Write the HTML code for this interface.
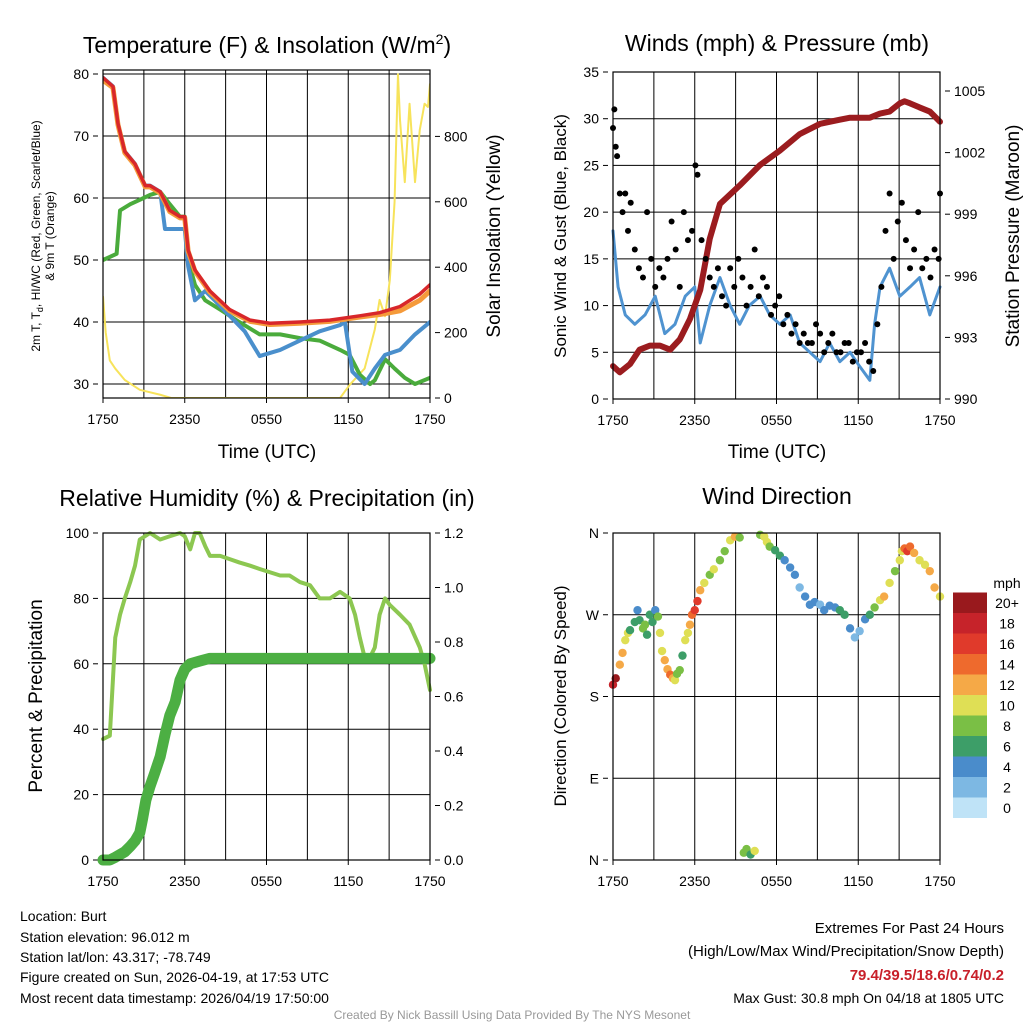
<!DOCTYPE html>
<html><head><meta charset="utf-8">
<style>
body{margin:0;background:#fff;}
svg{display:block;font-family:"Liberation Sans",sans-serif;}
</style></head>
<body>
<svg id="c" width="1024" height="1024" viewBox="0 0 1024 1024">
<text x="267" y="53" font-size="23" text-anchor="middle">Temperature (F) &amp; Insolation (W/m<tspan font-size="14" dy="-9">2</tspan><tspan dy="9">)</tspan></text>
<text x="777" y="51" font-size="23" text-anchor="middle">Winds (mph) &amp; Pressure (mb)</text>
<text x="267" y="506" font-size="23" text-anchor="middle">Relative Humidity (%) &amp; Precipitation (in)</text>
<text x="777" y="504" font-size="23" text-anchor="middle">Wind Direction</text>

<text transform="translate(40,236) rotate(-90)" font-size="12" text-anchor="middle"><tspan x="0" dy="0">2m T, T<tspan font-size="9" dy="3">d</tspan><tspan dy="-3">, HI/WC (Red, Green, Scarlet/Blue)</tspan></tspan><tspan x="0" dy="14">&amp; 9m T (Orange)</tspan></text>
<text transform="translate(500,236) rotate(-90)" font-size="19" text-anchor="middle">Solar Insolation (Yellow)</text>
<text x="267" y="458" font-size="19" text-anchor="middle">Time (UTC)</text>
<text transform="translate(566,236) rotate(-90)" font-size="17" text-anchor="middle">Sonic Wind &amp; Gust (Blue, Black)</text>
<text transform="translate(1019,236) rotate(-90)" font-size="19" text-anchor="middle">Station Pressure (Maroon)</text>
<text x="777" y="458" font-size="19" text-anchor="middle">Time (UTC)</text>
<text transform="translate(42,696) rotate(-90)" font-size="19" text-anchor="middle">Percent &amp; Precipitation</text>
<text transform="translate(566,696) rotate(-90)" font-size="17" text-anchor="middle">Direction (Colored By Speed)</text>

<g font-size="14">
<text x="20" y="921">Location: Burt</text>
<text x="20" y="942">Station elevation: 96.012 m</text>
<text x="20" y="962">Station lat/lon: 43.317; -78.749</text>
<text x="20" y="982">Figure created on Sun, 2026-04-19, at 17:53 UTC</text>
<text x="20" y="1003">Most recent data timestamp: 2026/04/19 17:50:00</text>
</g>
<g font-size="15" text-anchor="end">
<text x="1004" y="933">Extremes For Past 24 Hours</text>
<text x="1004" y="956">(High/Low/Max Wind/Precipitation/Snow Depth)</text>
<text x="1004" y="980" fill="#c8202a" font-weight="bold">79.4/39.5/18.6/0.74/0.2</text>
<text x="1004" y="1003" font-size="14">Max Gust: 30.8 mph On 04/18 at 1805 UTC</text>
</g>
<text x="512" y="1019" font-size="12" fill="#999" text-anchor="middle">Created By Nick Bassill Using Data Provided By The NYS Mesonet</text>
</svg>
<script>
// ---- data ----
const timeLabels=["1750","2350","0550","1150","1750"];
const tempTicks=[30,40,50,60,70,80];
const solarTicks=[0,200,400,600,800];
const windTicks=[0,5,10,15,20,25,30,35];
const presTicks=[990,993,996,999,1002,1005];
const rhTicks=[0,20,40,60,80,100];
const precipTicks=["0.0","0.2","0.4","0.6","0.8","1.0","1.2"];
const dirLabels=["N","E","S","W","N"];
const speedLegend=["0","2","4","6","8","10","12","14","16","18","20+"];
const speedColors=["#bfe3f7","#7db8e3","#4a8ccb","#3d9e68","#7abf45","#dfdf55","#f5a947","#ee6a2d","#e03a2b","#c6232a","#99191d"];

const tempT=[0,0.73,1.1,1.6,2.35,3.1,3.45,4.2,4.9,5.65,6,6.25,6.75,7.85,9.3,10.8,12.25,14.45,16.65,18.85,20.3,21.8,23.25,24];
const tempV=[79.4,78,72,67.5,65.5,62,62,61,58,57,57,51.6,48.4,45,42,40.3,39.8,40,40.3,41,41.5,42.5,44.5,46];
const nineT=[79,77.8,71.8,67.3,65.3,61.8,61.8,60.8,57.8,56.8,56.8,51.4,48.2,44.8,41.8,40.1,39.6,39.8,40.1,40.8,41.2,41.8,43.5,45];
const dewT=[0,0.5,1.0,1.25,2,2.7,3.45,4.2,4.9,5.65,6,6.25,6.75,7.5,8.6,10,11.5,13,14.45,15.9,17.4,18.1,18.85,19.6,19.95,20.7,21.4,22.15,22.9,24];
const dewV=[50,50.5,51,58,59,59.7,60.5,61,59,57,57,50,46,43.5,42,40,38,38,37.4,37,35.5,34.7,31.5,30,30.6,34,32.5,31,30,31];
const hiT=[0,0.73,1.1,1.6,2.35,3.1,3.45,4.2,4.55,6,6.25,6.75,7.5,8.2,9.3,10.4,11.5,13,14.45,15.9,17.4,17.75,18.3,19.2,19.95,20.7,21.8,22.9,24];
const hiV=[79.4,78,72,67.5,65.5,62,62,61,55,55,49,43.5,45,43.5,41,38.5,34.5,35.5,37,38.5,39.5,40,32,30,32.5,34.7,35.5,38,40];
const solT=[0,0.2,0.5,0.9,1.6,2.7,4.2,5,17.4,18.1,19.2,19.95,20.3,20.7,21.05,21.4,21.65,21.8,22.15,22.5,22.9,23.25,23.6,23.85,24];
const solV=[310,200,115,90,55,25,10,0,0,40,90,210,300,250,360,600,990,850,660,900,660,820,900,890,960];

const windT=[0,0.37,0.9,1.6,2.35,3.1,3.8,4.55,5.3,6,6.4,7.1,7.85,8.6,9.3,10,10.8,11.5,12.25,13,13.7,14.45,15.2,15.9,16.65,17.4,18.1,18.85,19.2,19.6,20.3,21.05,21.8,22.5,23.25,24];
const windV=[18,12,9,8,9,11,7,8,11,12,6,10,13,10,8,10,11,9,8,9,6,5,4,6,4,5,3.5,2,8,12,14,11,12,13,9,12];
const gustT=[0,0.1,0.2,0.3,0.5,0.7,0.9,1.1,1.3,1.6,1.9,2.2,2.5,2.8,3.1,3.4,3.7,4.0,4.3,4.6,4.9,5.2,5.5,5.8,6.05,6.2,6.5,6.8,7.1,7.4,7.7,8.0,8.3,8.6,8.9,9.2,9.5,9.8,10.1,10.4,10.7,11.0,11.3,11.6,11.9,12.2,12.5,12.8,13.1,13.4,13.7,14.0,14.3,14.6,14.9,15.2,15.5,15.8,16.1,16.4,16.7,17.0,17.3,17.6,17.9,18.2,18.5,18.8,19.1,19.4,19.7,20.0,20.3,20.6,20.9,21.2,21.5,21.8,22.1,22.4,22.7,23.0,23.3,23.6,23.9,24];
const gustV=[29,31,27,26,22,20,22,18,21,16,14,13,20,15,12,14,13,15,19,16,12,20,17,18,25,24,17,15,13,12,14,11,10,14,12,15,13,10,12,16,11,13,12,9,10,11,8,9,7,8,6,7,6,6,8,7,5,6,7,5,5,6,6,4,5,5,6,4,3,8,12,18,22,15,19,21,17,14,16,20,14,15,13,16,15,22];
const presT=[0,0.5,1.25,1.95,2.7,3.45,4.2,4.9,5.65,6.4,7.1,7.85,9.3,10.8,12.25,13.7,15.2,16.65,17.4,18.85,19.6,20.3,21.05,21.4,21.8,22.5,23.25,24];
const presV=[991.6,991.3,991.7,992.4,992.6,992.6,992.4,992.9,993.9,995.3,997.8,999.5,1000.4,1001.4,1002.1,1002.9,1003.4,1003.6,1003.7,1003.7,1003.9,1004.0,1004.4,1004.5,1004.4,1004.2,1004.0,1003.5];

const rhT=[0,0.5,0.9,1.25,1.6,2,2.35,2.7,3.45,4.2,4.9,5.65,6,6.4,6.75,7.1,7.5,7.85,8.6,9.3,10,10.8,11.5,12.25,13,13.7,14.45,15.2,15.9,16.65,17.4,18.1,18.5,18.85,19.2,19.6,19.95,20.3,20.7,21.05,21.8,22.5,23.25,23.6,24];
const rhV=[37,38,68,75,80,85,90,98,100,98,99,100,99,95,100,100,96,93,93,92,91,90,89,88,87,87,85,84,80,80,82,80,75,68,62,62,65,75,80,78,75,72,65,60,52];
const prT=[0,0.5,0.9,1.25,1.6,2,2.35,2.7,2.9,3.15,3.45,3.8,4.2,4.55,4.9,5.3,5.65,6,6.4,7.1,7.85,12,18,24];
const prV=[0,0,0.01,0.02,0.03,0.05,0.07,0.1,0.15,0.22,0.27,0.32,0.38,0.46,0.53,0.58,0.66,0.70,0.72,0.73,0.74,0.74,0.74,0.74];

const dirT=[0,0.2,0.5,0.7,0.9,1.1,1.25,1.6,1.8,1.95,2.2,2.35,2.5,2.7,2.9,3.1,3.3,3.45,3.6,3.8,4.0,4.2,4.4,4.55,4.7,4.9,5.1,5.3,5.5,5.65,5.8,6,6.2,6.4,6.7,7.1,7.4,7.85,8.2,8.6,8.95,9.3,9.6,9.8,10.1,10.4,10.8,11.1,11.3,11.5,11.9,12.25,12.6,13,13.35,13.7,14.1,14.45,14.8,15.2,15.5,15.9,16.3,16.65,17,17.4,17.75,18.1,18.5,18.85,19.2,19.6,19.9,20.3,20.7,21.05,21.2,21.4,21.6,21.8,22.1,22.5,22.9,23.25,23.6,24];
const dirV=[193,200,215,228,242,250,253,262,275,264,255,259,248,270,262,275,268,250,230,220,210,204,200,198,205,209,225,242,250,259,270,275,285,297,305,314,320,330,340,352,356,355,8,12,6,10,358,356,350,345,341,335,330,322,314,300,290,281,284,281,275,280,278,275,270,255,245,252,265,270,278,286,290,305,318,330,340,343,340,345,338,330,325,318,300,290];
const dirS=[18,20,12,11,10,9,6,5,4,6,7,8,6,5,6,4,7,9,10,12,11,13,12,9,8,7,6,9,10,12,14,15,16,12,10,8,9,8,7,10,11,8,7,8,6,9,7,10,9,8,6,5,4,4,3,2,4,3,3,2,4,3,4,6,5,3,2,2,3,6,8,9,12,10,8,9,10,14,16,14,12,10,9,11,12,10];

// ---- drawing ----
const NS="http://www.w3.org/2000/svg";
const svg=document.getElementById('c');
function el(tag,attrs,parent){const e=document.createElementNS(NS,tag);for(const k in attrs)e.setAttribute(k,attrs[k]);(parent||svg).appendChild(e);return e;}
function lin(d0,d1,r0,r1){return v=>r0+(v-d0)/(d1-d0)*(r1-r0);}

function frame(x0,y0,x1,y1,name){
  const g=el('g',{});
  
  
  const xs=lin(0,24,x0,x1);
  for(let h=3;h<24;h+=3){
    const l=el('line',{x1:xs(h),x2:xs(h),y1:y0,y2:y1,stroke:'#000','stroke-width':1},g);
    
    
  }
  timeLabels.forEach((t,i)=>{
    const h=i*6;
    el('line',{x1:xs(h),x2:xs(h),y1:y1,y2:y1+5,stroke:'#000'},g);
    const tx=el('text',{x:xs(h),y:y1+26,'font-size':14,'text-anchor':'middle'},g);
    tx.textContent=t;
    
    
  });
  return {g,xs};
}
function hgrid(g,ticks,ys,x0,x1){
  ticks.forEach(v=>{
    const y=ys(v);
    el('line',{x1:x0,x2:x1,y1:y,y2:y,stroke:'#000','stroke-width':1},g);
  });
}
function yLabels(g,ticks,ys,x,anchor,labels){
  ticks.forEach((v,i)=>{
    const tx=el('text',{x:x,y:ys(v)+5,'font-size':14,'text-anchor':anchor},g);
    tx.textContent=labels?labels[i]:v;
    
    
    el('line',{x1:anchor==='end'?x+4:x-9,x2:anchor==='end'?x+9:x-4,y1:ys(v),y2:ys(v),stroke:'#000'},g);
  });
}
function line(g,T,V,xs,ys,color,w,name){
  const p=el('polyline',{points:T.map((t,i)=>xs(t)+','+ys(V[i])).join(' '),fill:'none',stroke:color,'stroke-width':w,'stroke-linejoin':'round','stroke-linecap':'round'},g);
  
  
}
function box(g,x0,y0,x1,y1){el('rect',{x:x0,y:y0,width:x1-x0,height:y1-y0,fill:'none',stroke:'#000','stroke-width':1.2},g);}

// Panel 1
(function(){
  const x0=103,x1=430,y0=70,y1=398;
  const {g,xs}=frame(x0,y0,x1,y1,'temperature');
  const ys=lin(30,80,384,74);
  const ss=lin(0,1000,398,71);
  hgrid(g,tempTicks,ys,x0,x1);
  yLabels(g,tempTicks,ys,x0-14,'end');
  yLabels(g,solarTicks,ss,x1+14,'start');
  const cp=el('clipPath',{id:'cp1'},g);el('rect',{x:x0,y:y0,width:x1-x0,height:y1-y0},cp);
  const cg=el('g',{'clip-path':'url(#cp1)'},g);
  line(cg,solT,solV,xs,ss,'#f7e35b',2,'solar-line');
  line(cg,dewT,dewV,xs,ys,'#4aab3c',4,'dewpoint-line');
  line(cg,hiT,hiV,xs,ys,'#4a8fcc',4,'heat-index-windchill-line');
  line(cg,tempT,nineT,xs,ys,'#f59a3a',5,'9m-temperature-line');
  line(cg,tempT,tempV,xs,ys,'#d8272a',3.5,'temperature-line');
  box(g,x0,y0,x1,y1);
})();

// Panel 2
(function(){
  const x0=613,x1=940,y0=72,y1=399;
  const {g,xs}=frame(x0,y0,x1,y1,'winds');
  const ys=lin(0,35,399,72);
  const ps=lin(990,1005,399,91);
  hgrid(g,windTicks,ys,x0,x1);
  yLabels(g,windTicks,ys,x0-14,'end');
  yLabels(g,presTicks,ps,x1+14,'start');
  line(g,windT,windV,xs,ys,'#4f93d0',3,'wind-speed-line');
  line(g,presT,presV,xs,ps,'#9b1c1f',6,'pressure-line');
  gustT.forEach((t,i)=>{
    const c=el('circle',{cx:xs(t),cy:ys(gustV[i]),r:3,fill:'#000'},g);
    
    
  });
  box(g,x0,y0,x1,y1);
})();

// Panel 3
(function(){
  const x0=103,x1=430,y0=533,y1=860;
  const {g,xs}=frame(x0,y0,x1,y1,'humidity');
  const ys=lin(0,100,860,533);
  const ps=lin(0,1.2,860,533);
  hgrid(g,rhTicks,ys,x0,x1);
  yLabels(g,rhTicks,ys,x0-14,'end');
  yLabels(g,precipTicks.map(Number),ps,x1+14,'start',precipTicks);
  line(g,rhT,rhV,xs,ys,'#8cc751',4,'relative-humidity-line');
  line(g,prT,prV,xs,ps,'#4caf43',11,'precipitation-line');
  box(g,x0,y0,x1,y1);
})();

// Panel 4
(function(){
  const x0=613,x1=940,y0=533,y1=860;
  const {g,xs}=frame(x0,y0,x1,y1,'wind-direction');
  const ds=lin(0,360,860,533);
  const dTicks=[0,90,180,270,360];
  hgrid(g,dTicks,ds,x0,x1);
  yLabels(g,dTicks,ds,x0-14,'end',dirLabels);
  dirT.forEach((t,i)=>{
    const ci=Math.min(10,Math.round(dirS[i]/2));
    const c=el('circle',{cx:xs(t),cy:ds(dirV[i]),r:4.2,fill:speedColors[ci]},g);
    
    
  });
  box(g,x0,y0,x1,y1);
  const lg=el('g',{});
  
  
  const t=el('text',{x:1007,y:588,'font-size':14,'text-anchor':'middle'},lg);t.textContent='mph';
  const bh=20.5;
  speedLegend.forEach((s,i)=>{
    const y=818-(i+1)*bh;
    const r=el('rect',{x:953,y:y,width:34,height:bh,fill:speedColors[i]},lg);
    
    
    const tx=el('text',{x:1007,y:y+bh/2+5,'font-size':14,'text-anchor':'middle'},lg);
    tx.textContent=s;
    
    
  });
})();
</script>
</body></html>
